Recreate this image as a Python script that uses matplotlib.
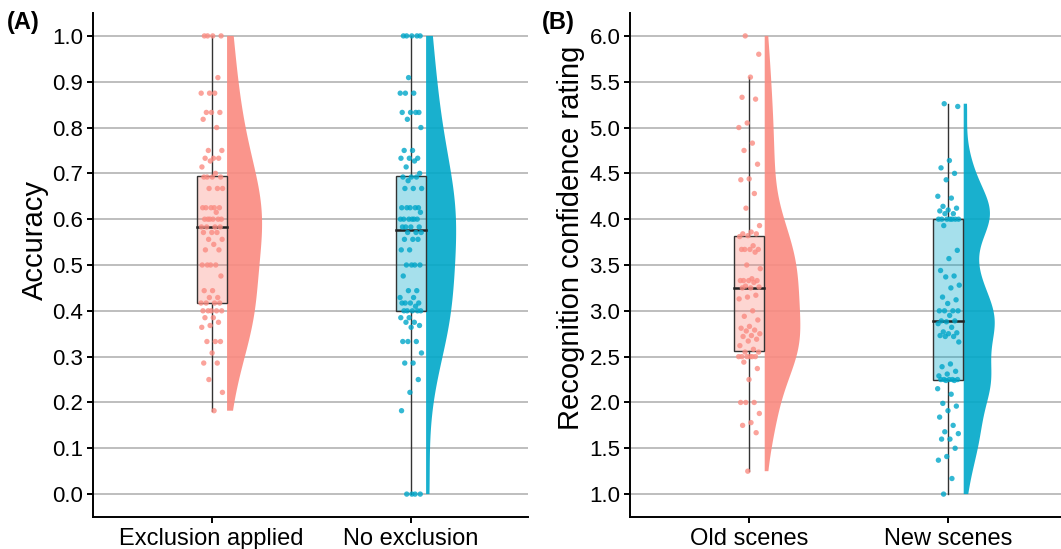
import numpy as np
import matplotlib
matplotlib.use('Agg')
import matplotlib.pyplot as plt
from matplotlib.patches import Polygon, Rectangle

plt.rcParams['font.family'] = ['Liberation Sans', 'DejaVu Sans']

# ---------------- data ----------------
cats_a = ['Exclusion applied', 'No exclusion']
acc_excl = [1.0, 1.0, 1.0, 1.0, 0.909, 0.875, 0.875, 0.875, 0.833, 0.833, 0.833, 0.818, 0.8,
            0.75, 0.75, 0.733, 0.733, 0.733, 0.727, 0.714, 0.7, 0.692,
            0.692, 0.692, 0.692, 0.667, 0.667, 0.667,
            0.625, 0.625, 0.625, 0.625, 0.625, 0.615,
            0.6, 0.6, 0.6, 0.6, 0.6, 0.6, 0.583, 0.583, 0.583, 0.583,
            0.571, 0.571, 0.571, 0.556, 0.556, 0.545, 0.533, 0.533,
            0.5, 0.5, 0.5, 0.5, 0.476, 0.444, 0.444, 0.429, 0.429,
            0.417, 0.417, 0.417, 0.417, 0.4, 0.4, 0.4, 0.4, 0.4, 0.385, 0.385,
            0.375, 0.368, 0.364,
            0.333, 0.333, 0.333, 0.308, 0.286, 0.286, 0.25, 0.222, 0.182]
acc_noexcl = [1.0, 1.0, 1.0, 1.0, 1.0, 0.909, 0.875, 0.875, 0.875, 0.833, 0.833, 0.833, 0.833,
              0.818, 0.8, 0.75, 0.75, 0.733, 0.733, 0.733, 0.727, 0.714, 0.7,
              0.692, 0.692, 0.692, 0.684, 0.667, 0.667, 0.667,
              0.625, 0.625, 0.625, 0.625, 0.625, 0.615,
              0.6, 0.6, 0.6, 0.6, 0.6, 0.6, 0.583, 0.583, 0.583, 0.583,
              0.571, 0.571, 0.571, 0.556, 0.556, 0.556, 0.533, 0.533,
              0.5, 0.5, 0.5, 0.5, 0.476, 0.444, 0.444, 0.429, 0.429,
              0.417, 0.417, 0.417, 0.417, 0.41, 0.4, 0.4, 0.4, 0.4, 0.4,
              0.385, 0.385, 0.375, 0.375, 0.368, 0.364, 0.333, 0.333, 0.333, 0.308,
              0.286, 0.286, 0.25, 0.222, 0.182, 0.0, 0.0, 0.0, 0.0]

cats_b = ['Old scenes', 'New scenes']
conf_old = [6.0, 5.8, 5.55, 5.33, 5.31, 5.05, 5.0, 4.83, 4.75, 4.6, 4.44, 4.43,
            4.28, 4.12, 3.93, 3.86, 3.84, 3.84, 3.82, 3.81, 3.71,
            3.67, 3.67, 3.67, 3.67, 3.64, 3.5, 3.46, 3.35,
            3.33, 3.33, 3.33, 3.33, 3.31, 3.27, 3.26, 3.25, 3.25,
            3.17, 3.15, 3.13, 3.0, 2.94, 2.9, 2.83, 2.81, 2.79, 2.78, 2.75,
            2.73, 2.72, 2.69, 2.67, 2.62, 2.58, 2.55, 2.55,
            2.5, 2.5, 2.5, 2.5, 2.5, 2.5, 2.44, 2.37, 2.25,
            2.0, 2.0, 2.0, 1.88, 1.78, 1.75, 1.67, 1.25]
conf_new = [5.26, 5.23, 4.64, 4.56, 4.5, 4.43, 4.25, 4.23, 4.14, 4.12, 4.1, 4.09,
            4.06, 4.06, 4.0, 4.0, 4.0, 4.0, 4.0, 4.0, 4.0, 3.93,
            3.66, 3.57, 3.44, 3.38, 3.37, 3.28, 3.25, 3.15, 3.12, 3.08,
            3.0, 3.0, 3.0, 3.0, 2.95,
            2.89, 2.89, 2.88, 2.86, 2.82, 2.77, 2.76, 2.75, 2.73, 2.72, 2.72, 2.66,
            2.42, 2.39, 2.34, 2.31, 2.29, 2.25, 2.25, 2.25, 2.25, 2.25, 2.24, 2.24,
            2.15, 2.09, 1.99, 1.96, 1.91, 1.84, 1.75, 1.68, 1.66, 1.6, 1.6,
            1.5, 1.41, 1.37, 1.17, 1.0]

yticks_a = [0.0, 0.1, 0.2, 0.3, 0.4, 0.5, 0.6, 0.7, 0.8, 0.9, 1.0]
yticks_b = [1.0, 1.5, 2.0, 2.5, 3.0, 3.5, 4.0, 4.5, 5.0, 5.5, 6.0]

fill_colors = ['#FA8A80', '#00A8C9']
point_colors = ['#FA8C82', '#00A6C9']

# ---------------- helpers ----------------
def kde_nrd0(vals, adjust=1.0, n_grid=512):
    v = np.asarray(vals, float)
    n = len(v)
    sd = v.std(ddof=1)
    iqr = np.subtract(*np.percentile(v, [75, 25]))
    lo = min(sd, iqr / 1.34) if iqr > 0 else sd
    bw = 0.9 * lo * n ** (-0.2) * adjust
    grid = np.linspace(v.min(), v.max(), n_grid)
    d = np.exp(-0.5 * ((grid[:, None] - v[None, :]) / bw) ** 2).sum(1)
    d /= (n * bw * np.sqrt(2 * np.pi))
    return grid, d


def raincloud(ax, groups, widths, adjusts):
    box_w = 0.15
    for i, vals in enumerate(groups):
        pos = i + 1
        v = np.asarray(vals, float)
        q1, med, q3 = np.percentile(v, [25, 50, 75])
        iqr = q3 - q1
        wlo = v[v >= q1 - 1.5 * iqr].min()
        whi = v[v <= q3 + 1.5 * iqr].max()
        # whiskers
        ax.plot([pos, pos], [q3, whi], color='#333333', lw=1.0, zorder=2)
        ax.plot([pos, pos], [wlo, q1], color='#333333', lw=1.0, zorder=2)
        # box
        ax.add_patch(Rectangle((pos - box_w / 2, q1), box_w, q3 - q1,
                               facecolor=fill_colors[i], alpha=0.35,
                               edgecolor='none', zorder=2))
        ax.add_patch(Rectangle((pos - box_w / 2, q1), box_w, q3 - q1,
                               facecolor='none', edgecolor='#333333',
                               lw=1.0, zorder=2.1))
        ax.plot([pos - box_w / 2, pos + box_w / 2], [med, med],
                color='#222222', lw=1.8, zorder=2.2)
        # jittered points (deterministic low-discrepancy offsets)
        k = np.arange(len(v))
        jit = ((k * 0.6180339887 + 0.31) % 1.0 - 0.5) * 0.11
        ax.scatter(pos + jit, v, s=15, color=point_colors[i], alpha=0.8,
                   edgecolors='none', zorder=3)
        # half violin
        grid, d = kde_nrd0(v, adjusts[i])
        d = d / d.max() * widths[i]
        base = pos + 0.077
        xs = np.concatenate([[base], base + d, [base]])
        ys = np.concatenate([[grid[0]], grid, [grid[-1]]])
        ax.add_patch(Polygon(np.column_stack([xs, ys]), closed=True,
                             facecolor=fill_colors[i], alpha=0.9,
                             edgecolor='none', zorder=2))


def style(ax, yticks, ylim, xlim, cats):
    ax.set_ylim(*ylim)
    ax.set_xlim(*xlim)
    ax.set_yticks(yticks)
    ax.set_yticklabels([f'{t:.1f}' for t in yticks], fontsize=16)
    ax.set_xticks([1, 2])
    ax.set_xticklabels(cats, fontsize=17)
    for t in yticks:
        ax.axhline(t, color='#BEBEBE', lw=1.4, zorder=0)
    for s in ['top', 'right']:
        ax.spines[s].set_visible(False)
    for s in ['left', 'bottom']:
        ax.spines[s].set_linewidth(1.4)
        ax.spines[s].set_color('black')
    ax.tick_params(axis='both', length=4, width=1.4, color='black', pad=3)
    ax.tick_params(axis='x', pad=4)


# ---------------- figure ----------------
fig = plt.figure(figsize=(10.61, 5.49), dpi=100)
W, H = 1061.0, 549.0

axA = fig.add_axes([93 / W, 1 - 517 / H, (528 - 93) / W, (517 - 13) / H])
raincloud(axA, [acc_excl, acc_noexcl], [0.176, 0.151], [1.3, 1.3])
style(axA, yticks_a, (-0.05, 1.05), (0.4035, 2.589), cats_a)

axB = fig.add_axes([630 / W, 1 - 517 / H, (1061 - 630) / W, (517 - 13) / H])
raincloud(axB, [conf_old, conf_new], [0.179, 0.156], [1.0, 0.7])
style(axB, yticks_b, (0.75, 6.25), (0.40, 2.566), cats_b)

fig.text(35 / W, 1 - 240 / H, 'Accuracy', rotation=90, fontsize=21,
         ha='center', va='center')
fig.text(571 / W, 1 - 238 / H, 'Recognition confidence rating', rotation=90,
         fontsize=21, ha='center', va='center')
fig.text(7 / W, 1 - 22 / H, '(A)', fontsize=17, fontweight='bold',
         ha='left', va='center')
fig.text(542 / W, 1 - 22 / H, '(B)', fontsize=17, fontweight='bold',
         ha='left', va='center')

fig.savefig('out.png', dpi=100, facecolor='white')
